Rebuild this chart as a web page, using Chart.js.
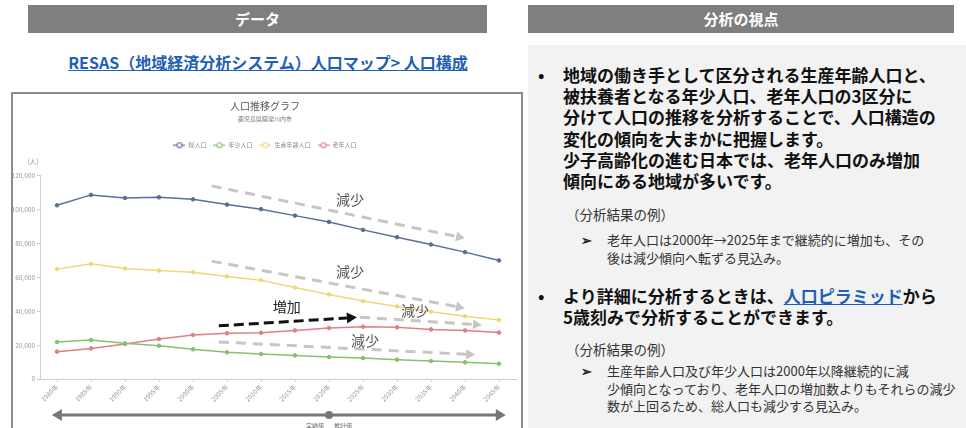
<!DOCTYPE html>
<html lang="ja">
<head>
<meta charset="utf-8">
<script src="https://cdn.jsdelivr.net/npm/chart.js@4.4.1/dist/chart.umd.min.js"></script>
<style>
  body { margin: 0; width: 966px; height: 428px; overflow: hidden; background: #fff;
         font-family: "Noto Sans CJK JP", "Noto Sans", sans-serif; position: relative; }
  .bar { position: absolute; top: 5px; height: 28px; background: #7f7f7f; color: #fff;
         font-weight: bold; font-size: 15px; line-height: 28px; text-align: center; }
  .link { position: absolute; left: 28px; width: 480px; top: 50px; text-align: center;
          color: #1f5fb5; font-weight: bold; font-size: 16px; text-decoration: underline; }
  .frame { position: absolute; left: 11px; top: 92px; width: 508px; height: 340px;
           border: 2px solid #8c8c8c; background: #fff; }
  #box { position: absolute; left: 13px; top: 94px; width: 508px; height: 334px; }
  .panel { position: absolute; left: 528px; top: 45px; width: 438px; height: 383px; background: #f2f2f2; }
  .main { position: absolute; left: 563px; font-weight: bold; font-size: 17px; line-height: 21.2px;
          color: #111; white-space: nowrap; }
  .dot { position: absolute; left: 538px; font-weight: bold; font-size: 17px; color: #111; }
  .ex { position: absolute; left: 566px; font-size: 13.5px; color: #333; white-space: nowrap; }
  .note { position: absolute; left: 607px; font-size: 13px; line-height: 17.6px; color: #333; white-space: nowrap; }
  .mark { position: absolute; left: 581px; font-size: 13px; font-weight: bold; color: #222; }
  .main a { color: #1f5fb5; text-decoration: underline; }
</style>
</head>
<body>
<div class="bar" style="left:28px;width:459px;">データ</div>
<div class="bar" style="left:528px;width:426px;">分析の視点</div>
<div class="link">RESAS（地域経済分析システム）人口マップ&gt; 人口構成</div>

<div class="frame"></div>
<div id="box"><canvas id="popChart"></canvas></div>

<div class="panel"></div>
<div class="dot" style="top:62px;">•</div>
<div class="main" style="top:64px;">地域の働き手として区分される生産年齢人口と、<br>被扶養者となる年少人口、老年人口の3区分に<br>分けて人口の推移を分析することで、人口構造の<br>変化の傾向を大まかに把握します。<br>少子高齢化の進む日本では、老年人口のみ増加<br>傾向にある地域が多いです。</div>
<div class="ex" style="top:204px;">（分析結果の例）</div>
<div class="mark" style="top:230px;">➢</div>
<div class="note" style="top:231px;">老年人口は2000年→2025年まで継続的に増加も、その<br>後は減少傾向へ転ずる見込み。</div>
<div class="dot" style="top:283px;">•</div>
<div class="main" style="top:285px;">より詳細に分析するときは、<a>人口ピラミッド</a>から<br>5歳刻みで分析することができます。</div>
<div class="ex" style="top:339px;">（分析結果の例）</div>
<div class="mark" style="top:361px;">➢</div>
<div class="note" style="top:362px;">生産年齢人口及び年少人口は2000年以降継続的に減<br>少傾向となっており、老年人口の増加数よりもそれらの減少<br>数が上回るため、総人口も減少する見込み。</div>

<script>
// 5年ごとの人口（人）
var years = ['1980年', '1985年', '1990年', '1995年', '2000年', '2005年', '2010年',
             '2015年', '2020年', '2025年', '2030年', '2035年', '2040年', '2045年'];
var totalPop   = [102300, 108400, 106600, 107000, 105800, 102700, 100000,
                  96200, 92500, 87800, 83500, 79200, 74700, 69800];
var youngPop   = [21800, 22900, 21000, 19600, 17500, 15700, 14700,
                  13900, 12900, 12300, 11400, 10600, 9800, 9000];
var workingPop = [64700, 67800, 65100, 63900, 62900, 60400, 58200,
                  53900, 49800, 45900, 42700, 39600, 37000, 34700];
var elderlyPop = [16100, 18000, 20600, 23500, 25900, 26900, 27200,
                  28600, 30000, 30800, 30400, 29200, 28600, 27400];
var seriesNames = ['総人口', '年少人口', '生産年齢人口', '老年人口'];
var seriesColors = ['#5a6e99', '#86c06c', '#eed87e', '#de7f88'];

// 傾向を示す矢印（x は年次の番号、y は人）
var trendKind    = ['減少', '減少', '増加', '減少', '減少'];
var trendFrom    = [[4.55, 113700], [4.55, 69400], [4.76, 31300], [8.91, 36400], [4.76, 21800]];
var trendTo      = [[12.0, 82900], [12.0, 41700], [8.82, 36300], [12.5, 31800], [12.3, 14300]];
var trendLabelAt = [[8.62, 105300], [8.62, 62900], [6.76, 42300], [10.53, 40000], [9.06, 22300]];

var lastActual = 8; // 2020年までが実績値

function legendIcon(color) {
  var c = document.createElement('canvas');
  c.width = 12; c.height = 8;
  var g = c.getContext('2d');
  g.strokeStyle = color; g.lineWidth = 1.2;
  g.beginPath(); g.moveTo(0, 4); g.lineTo(12, 4); g.stroke();
  g.fillStyle = '#fff';
  g.beginPath(); g.arc(6, 4, 2.5, 0, Math.PI * 2); g.fill(); g.stroke();
  return c;
}
var legendIcons = seriesColors.map(legendIcon);

function drawArrow(ctx, x0, y0, x1, y1, color, dash, width, head) {
  var a = Math.atan2(y1 - y0, x1 - x0);
  var ex = x1 - Math.cos(a) * head, ey = y1 - Math.sin(a) * head;
  ctx.save();
  ctx.strokeStyle = color; ctx.fillStyle = color; ctx.lineWidth = width;
  ctx.setLineDash(dash);
  ctx.beginPath(); ctx.moveTo(x0, y0); ctx.lineTo(ex, ey); ctx.stroke();
  ctx.setLineDash([]);
  ctx.beginPath();
  ctx.moveTo(x1, y1);
  ctx.lineTo(ex + Math.sin(a) * head * 0.55, ey - Math.cos(a) * head * 0.55);
  ctx.lineTo(ex - Math.sin(a) * head * 0.55, ey + Math.cos(a) * head * 0.55);
  ctx.closePath(); ctx.fill();
  ctx.restore();
}

var trendPlugin = {
  id: 'trendArrows',
  beforeInit: function(chart) {
    // 凡例の下に少し余白を足す
    var legend = chart.legend, fit = legend.fit;
    legend.fit = function() { fit.call(legend); legend.height += 17; };
  },
  afterDatasetsDraw: function(chart) {
    var ctx = chart.ctx, xs = chart.scales.x, ys = chart.scales.y;
    for (var i = 0; i < trendKind.length; i++) {
      var up = trendKind[i] == '増加';
      drawArrow(ctx,
        xs.getPixelForValue(trendFrom[i][0]), ys.getPixelForValue(trendFrom[i][1]),
        xs.getPixelForValue(trendTo[i][0]), ys.getPixelForValue(trendTo[i][1]),
        up ? '#111' : '#c6c6c6', up ? [10, 5] : [10, 7], 3, up ? 10 : 9);
      ctx.save();
      ctx.font = '14px "Noto Sans CJK JP"';
      ctx.fillStyle = up ? '#222' : '#595959';
      ctx.textAlign = 'center'; ctx.textBaseline = 'middle';
      ctx.fillText(trendKind[i], xs.getPixelForValue(trendLabelAt[i][0]), ys.getPixelForValue(trendLabelAt[i][1]));
      ctx.restore();
    }
  },
  afterDraw: function(chart) {
    var ctx = chart.ctx, xs = chart.scales.x, area = chart.chartArea;
    // 単位
    ctx.save();
    ctx.font = '7px "Noto Sans CJK JP"';
    ctx.fillStyle = '#999';
    ctx.textAlign = 'center';
    ctx.fillText('(人)', area.left - 7, area.top - 14);
    // 実績値 / 推計値 の区切り
    var y = area.bottom + 36;
    var xa = xs.getPixelForValue(-0.15), xb = xs.getPixelForValue(13.2), xm = xs.getPixelForValue(lastActual);
    ctx.strokeStyle = '#777'; ctx.fillStyle = '#777'; ctx.lineWidth = 3;
    ctx.beginPath(); ctx.moveTo(xa + 8, y); ctx.lineTo(xb - 8, y); ctx.stroke();
    ctx.beginPath(); ctx.moveTo(xa, y); ctx.lineTo(xa + 10, y - 6); ctx.lineTo(xa + 10, y + 6); ctx.closePath(); ctx.fill();
    ctx.beginPath(); ctx.moveTo(xb, y); ctx.lineTo(xb - 10, y - 6); ctx.lineTo(xb - 10, y + 6); ctx.closePath(); ctx.fill();
    ctx.beginPath(); ctx.arc(xm, y, 4, 0, Math.PI * 2); ctx.fill();
    ctx.font = '6px "Noto Sans CJK JP"';
    ctx.fillStyle = '#666';
    ctx.textAlign = 'right'; ctx.fillText('実績値', xm - 5, y + 11);
    ctx.textAlign = 'left'; ctx.fillText('推計値', xm + 5, y + 11);
    ctx.restore();
  }
};

var seriesData = [totalPop, youngPop, workingPop, elderlyPop];
var datasets = [];
for (var i = 0; i < seriesNames.length; i++) {
  datasets.push({
    label: seriesNames[i],
    data: seriesData[i],
    borderColor: seriesColors[i],
    backgroundColor: seriesColors[i],
    borderWidth: 1.5,
    pointRadius: 1.8,
    pointBorderWidth: 1,
    tension: 0
  });
}

var ctx = document.getElementById('popChart').getContext('2d');
var popChart = new Chart(ctx, {
  type: 'line',
  data: { labels: years, datasets: datasets },
  plugins: [trendPlugin],
  options: {
    responsive: true,
    maintainAspectRatio: false,
    animation: false,
    layout: { padding: { left: 0, right: 4, top: 0, bottom: 0 } },
    plugins: {
      title: { display: true, text: '人口推移グラフ', color: '#595959',
               font: { size: 10, family: '"Noto Sans CJK JP"', weight: 'normal' },
               padding: { top: 6, bottom: 2 } },
      subtitle: { display: true, text: '鹿児島県薩摩川内市', color: '#777',
                  font: { size: 6, family: '"Noto Sans CJK JP"' },
                  padding: { top: 1, bottom: 13 } },
      legend: {
        labels: {
          usePointStyle: true, pointStyleWidth: 12, boxHeight: 7, padding: 7,
          color: '#8a8a8a', font: { size: 6, family: '"Noto Sans CJK JP"' },
          generateLabels: function(chart) {
            var items = Chart.defaults.plugins.legend.labels.generateLabels(chart);
            items.forEach(function(it, k) { it.pointStyle = legendIcons[k]; });
            return items;
          }
        }
      },
      tooltip: { enabled: false }
    },
    scales: {
      x: {
        offset: true,
        grid: { display: true, drawOnChartArea: false, tickLength: 3, color: '#d0d0d0' },
        border: { color: '#d0d0d0' },
        ticks: { minRotation: 45, maxRotation: 45, color: '#9a9a9a', padding: 1,
                 font: { size: 6.5, family: '"Noto Sans CJK JP"' } },
        afterFit: function(scale) { scale.height = 49; }
      },
      y: {
        min: 0, max: 120000,
        grid: { display: true, drawOnChartArea: false, tickLength: 3, color: '#d0d0d0' },
        border: { color: '#d0d0d0' },
        ticks: { stepSize: 20000, color: '#9a9a9a', padding: 2,
                 font: { size: 6.5, family: '"Noto Sans CJK JP"' },
                 callback: function(v) { return v.toLocaleString('en-US'); } },
        afterFit: function(scale) { scale.width = 27; }
      }
    }
  }
});
</script>
</body>
</html>
